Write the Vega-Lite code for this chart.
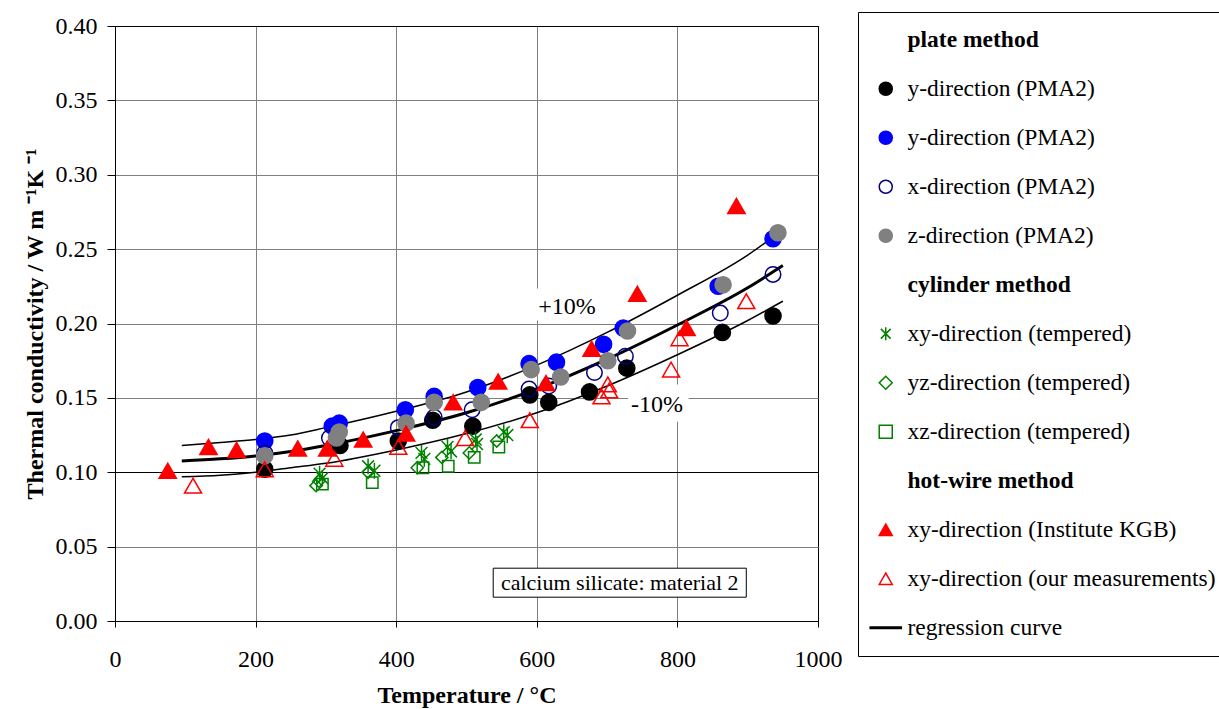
{
  "$schema": "https://vega.github.io/schema/vega-lite/v6.json",
  "width": 703,
  "height": 595,
  "autosize": {"type": "none"},
  "padding": {"left": 115, "top": 26, "right": 401, "bottom": 88},
  "background": "white",
  "config": {
    "view": {"stroke": "black", "strokeWidth": 1},
    "font": "Liberation Serif",
    "axis": {"labelFont": "Liberation Serif", "titleFont": "Liberation Serif"},
    "legend": {"labelFont": "Liberation Serif"}
  },
  "datasets": {
    "points": [
      {"series": "y-direction (PMA2)", "T": 213, "k": 0.102},
      {"series": "y-direction (PMA2)", "T": 320, "k": 0.118},
      {"series": "y-direction (PMA2)", "T": 403, "k": 0.121},
      {"series": "y-direction (PMA2)", "T": 452, "k": 0.135},
      {"series": "y-direction (PMA2)", "T": 509, "k": 0.131},
      {"series": "y-direction (PMA2)", "T": 590, "k": 0.152},
      {"series": "y-direction (PMA2)", "T": 617, "k": 0.147},
      {"series": "y-direction (PMA2)", "T": 675, "k": 0.154},
      {"series": "y-direction (PMA2)", "T": 728, "k": 0.170},
      {"series": "y-direction (PMA2)", "T": 864, "k": 0.194},
      {"series": "y-direction (PMA2)", "T": 936, "k": 0.205},
      {"series": "y-direction (PMA2) ", "T": 213, "k": 0.121},
      {"series": "y-direction (PMA2) ", "T": 309, "k": 0.131},
      {"series": "y-direction (PMA2) ", "T": 319, "k": 0.133},
      {"series": "y-direction (PMA2) ", "T": 413, "k": 0.142},
      {"series": "y-direction (PMA2) ", "T": 454, "k": 0.151},
      {"series": "y-direction (PMA2) ", "T": 516, "k": 0.157},
      {"series": "y-direction (PMA2) ", "T": 589, "k": 0.173},
      {"series": "y-direction (PMA2) ", "T": 628, "k": 0.174},
      {"series": "y-direction (PMA2) ", "T": 695, "k": 0.186},
      {"series": "y-direction (PMA2) ", "T": 723, "k": 0.197},
      {"series": "y-direction (PMA2) ", "T": 858, "k": 0.225},
      {"series": "y-direction (PMA2) ", "T": 936, "k": 0.257},
      {"series": "x-direction (PMA2)", "T": 213, "k": 0.113},
      {"series": "x-direction (PMA2)", "T": 305, "k": 0.123},
      {"series": "x-direction (PMA2)", "T": 403, "k": 0.130},
      {"series": "x-direction (PMA2)", "T": 454, "k": 0.137},
      {"series": "x-direction (PMA2)", "T": 508, "k": 0.142},
      {"series": "x-direction (PMA2)", "T": 589, "k": 0.156},
      {"series": "x-direction (PMA2)", "T": 617, "k": 0.158},
      {"series": "x-direction (PMA2)", "T": 682, "k": 0.167},
      {"series": "x-direction (PMA2)", "T": 726, "k": 0.178},
      {"series": "x-direction (PMA2)", "T": 861, "k": 0.207},
      {"series": "x-direction (PMA2)", "T": 936, "k": 0.233},
      {"series": "z-direction (PMA2)", "T": 213, "k": 0.111},
      {"series": "z-direction (PMA2)", "T": 315, "k": 0.123},
      {"series": "z-direction (PMA2)", "T": 319, "k": 0.127},
      {"series": "z-direction (PMA2)", "T": 414, "k": 0.133},
      {"series": "z-direction (PMA2)", "T": 454, "k": 0.147},
      {"series": "z-direction (PMA2)", "T": 521, "k": 0.147},
      {"series": "z-direction (PMA2)", "T": 592, "k": 0.169},
      {"series": "z-direction (PMA2)", "T": 634, "k": 0.164},
      {"series": "z-direction (PMA2)", "T": 701, "k": 0.175},
      {"series": "z-direction (PMA2)", "T": 729, "k": 0.195},
      {"series": "z-direction (PMA2)", "T": 865, "k": 0.226},
      {"series": "z-direction (PMA2)", "T": 943, "k": 0.261},
      {"series": "xy-direction (tempered)", "T": 291, "k": 0.099},
      {"series": "xy-direction (tempered)", "T": 295, "k": 0.096},
      {"series": "xy-direction (tempered)", "T": 360, "k": 0.104},
      {"series": "xy-direction (tempered)", "T": 369, "k": 0.101},
      {"series": "xy-direction (tempered)", "T": 436, "k": 0.113},
      {"series": "xy-direction (tempered)", "T": 440, "k": 0.109},
      {"series": "xy-direction (tempered)", "T": 473, "k": 0.117},
      {"series": "xy-direction (tempered)", "T": 478, "k": 0.114},
      {"series": "xy-direction (tempered)", "T": 513, "k": 0.122},
      {"series": "xy-direction (tempered)", "T": 515, "k": 0.119},
      {"series": "xy-direction (tempered)", "T": 553, "k": 0.127},
      {"series": "xy-direction (tempered)", "T": 558, "k": 0.125},
      {"series": "yz-direction (tempered)", "T": 286, "k": 0.091},
      {"series": "yz-direction (tempered)", "T": 290, "k": 0.094},
      {"series": "yz-direction (tempered)", "T": 360, "k": 0.100},
      {"series": "yz-direction (tempered)", "T": 430, "k": 0.103},
      {"series": "yz-direction (tempered)", "T": 465, "k": 0.110},
      {"series": "yz-direction (tempered)", "T": 504, "k": 0.113},
      {"series": "yz-direction (tempered)", "T": 543, "k": 0.121},
      {"series": "xz-direction (tempered)", "T": 295, "k": 0.092},
      {"series": "xz-direction (tempered)", "T": 366, "k": 0.093},
      {"series": "xz-direction (tempered)", "T": 438, "k": 0.103},
      {"series": "xz-direction (tempered)", "T": 474, "k": 0.104},
      {"series": "xz-direction (tempered)", "T": 511, "k": 0.110},
      {"series": "xz-direction (tempered)", "T": 546, "k": 0.117},
      {"series": "xy-direction (Institute KGB)", "T": 75, "k": 0.101},
      {"series": "xy-direction (Institute KGB)", "T": 133, "k": 0.117},
      {"series": "xy-direction (Institute KGB)", "T": 173, "k": 0.115},
      {"series": "xy-direction (Institute KGB)", "T": 260, "k": 0.116},
      {"series": "xy-direction (Institute KGB)", "T": 302, "k": 0.116},
      {"series": "xy-direction (Institute KGB)", "T": 353, "k": 0.122},
      {"series": "xy-direction (Institute KGB)", "T": 414, "k": 0.126},
      {"series": "xy-direction (Institute KGB)", "T": 481, "k": 0.147},
      {"series": "xy-direction (Institute KGB)", "T": 545, "k": 0.161},
      {"series": "xy-direction (Institute KGB)", "T": 613, "k": 0.160},
      {"series": "xy-direction (Institute KGB)", "T": 678, "k": 0.183},
      {"series": "xy-direction (Institute KGB)", "T": 743, "k": 0.220},
      {"series": "xy-direction (Institute KGB)", "T": 813, "k": 0.197},
      {"series": "xy-direction (Institute KGB)", "T": 884, "k": 0.279},
      {"series": "xy-direction (our measurements)", "T": 111, "k": 0.091},
      {"series": "xy-direction (our measurements)", "T": 213, "k": 0.102},
      {"series": "xy-direction (our measurements)", "T": 312, "k": 0.109},
      {"series": "xy-direction (our measurements)", "T": 403, "k": 0.117},
      {"series": "xy-direction (our measurements)", "T": 498, "k": 0.123},
      {"series": "xy-direction (our measurements)", "T": 590, "k": 0.135},
      {"series": "xy-direction (our measurements)", "T": 692, "k": 0.151},
      {"series": "xy-direction (our measurements)", "T": 701, "k": 0.159},
      {"series": "xy-direction (our measurements)", "T": 703, "k": 0.155},
      {"series": "xy-direction (our measurements)", "T": 791, "k": 0.169},
      {"series": "xy-direction (our measurements)", "T": 803, "k": 0.190},
      {"series": "xy-direction (our measurements)", "T": 898, "k": 0.215}
    ],
    "curves": [
      {"curve": "center", "T": 95, "k": 0.1075},
      {"curve": "center", "T": 150, "k": 0.109},
      {"curve": "center", "T": 200, "k": 0.111},
      {"curve": "center", "T": 250, "k": 0.114},
      {"curve": "center", "T": 300, "k": 0.118},
      {"curve": "center", "T": 400, "k": 0.128},
      {"curve": "center", "T": 500, "k": 0.140},
      {"curve": "center", "T": 600, "k": 0.156},
      {"curve": "center", "T": 700, "k": 0.176},
      {"curve": "center", "T": 800, "k": 0.199},
      {"curve": "center", "T": 900, "k": 0.224},
      {"curve": "center", "T": 950, "k": 0.239},
      {"curve": "upper", "T": 95, "k": 0.118},
      {"curve": "upper", "T": 150, "k": 0.120},
      {"curve": "upper", "T": 200, "k": 0.122},
      {"curve": "upper", "T": 250, "k": 0.125},
      {"curve": "upper", "T": 300, "k": 0.130},
      {"curve": "upper", "T": 400, "k": 0.141},
      {"curve": "upper", "T": 500, "k": 0.154},
      {"curve": "upper", "T": 600, "k": 0.172},
      {"curve": "upper", "T": 700, "k": 0.194},
      {"curve": "upper", "T": 800, "k": 0.219},
      {"curve": "upper", "T": 900, "k": 0.246},
      {"curve": "upper", "T": 950, "k": 0.263},
      {"curve": "lower", "T": 95, "k": 0.097},
      {"curve": "lower", "T": 150, "k": 0.098},
      {"curve": "lower", "T": 200, "k": 0.100},
      {"curve": "lower", "T": 250, "k": 0.103},
      {"curve": "lower", "T": 300, "k": 0.106},
      {"curve": "lower", "T": 400, "k": 0.115},
      {"curve": "lower", "T": 500, "k": 0.126},
      {"curve": "lower", "T": 600, "k": 0.140},
      {"curve": "lower", "T": 700, "k": 0.158},
      {"curve": "lower", "T": 800, "k": 0.179},
      {"curve": "lower", "T": 900, "k": 0.202},
      {"curve": "lower", "T": 950, "k": 0.215}
    ],
    "masks": [
      {"T": 599, "T2": 688, "k": 0.202, "k2": 0.2235},
      {"T": 730, "T2": 816, "k": 0.134, "k2": 0.159}
    ],
    "pct": [
      {"T": 643, "k": 0.211, "label": "+10%"},
      {"T": 771, "k": 0.145, "label": "-10%"}
    ],
    "box": [
      {"T": 538, "T2": 898, "k": 0.016, "k2": 0.0355, "label": "calcium silicate: material 2", "Tm": 718, "km": 0.0258}
    ]
  },
  "encoding": {
    "x": {
      "field": "T",
      "type": "quantitative",
      "scale": {"domain": [0, 1000], "nice": false, "zero": false},
      "axis": {
        "values": [0, 200, 400, 600, 800, 1000],
        "format": "d",
        "title": "Temperature / °C",
        "grid": true,
        "gridColor": {"condition": {"test": "datum.value >= 999 || datum.value <= 1", "value": "black"}, "value": "#808080"},
        "gridWidth": 1,
        "tickSize": 6,
        "tickColor": "black",
        "domainColor": "black",
        "labelPadding": 20,
        "labelFont": "Liberation Serif",
        "labelFontSize": 24,
        "labelColor": "black",
        "labelFlush": false,
        "labelOverlap": false,
        "titleFont": "Liberation Serif",
        "titleFontSize": 24,
        "titleFontWeight": "bold",
        "titleColor": "black",
        "titlePadding": 12
      }
    },
    "y": {
      "field": "k",
      "type": "quantitative",
      "scale": {"domain": [0, 0.4], "nice": false, "zero": false},
      "axis": {
        "values": [0, 0.05, 0.1, 0.15, 0.2, 0.25, 0.3, 0.35, 0.4],
        "format": ".2f",
        "title": "Thermal conductivity / W m ⁻¹K ⁻¹",
        "grid": true,
        "gridColor": {"condition": {"test": "abs(datum.value - 0.1) < 0.001 || datum.value > 0.399 || datum.value < 0.001", "value": "black"}, "value": "#808080"},
        "gridWidth": 1,
        "tickSize": 8,
        "tickColor": "black",
        "domainColor": "black",
        "labelPadding": 10,
        "labelFont": "Liberation Serif",
        "labelFontSize": 24,
        "labelColor": "black",
        "labelFlush": false,
        "labelOverlap": false,
        "titleFont": "Liberation Serif",
        "titleFontSize": 24,
        "titleFontWeight": "bold",
        "titleColor": "black",
        "titlePadding": 8
      }
    }
  },
  "layer": [
    {
      "data": {"name": "masks"},
      "mark": {"type": "rect", "fill": "white", "stroke": null},
      "encoding": {
        "x2": {"field": "T2"},
        "y2": {"field": "k2"}
      }
    },
    {
      "data": {"name": "curves"},
      "mark": {"type": "line", "color": "black", "interpolate": "monotone"},
      "encoding": {
        "detail": {"field": "curve", "type": "nominal"},
        "strokeWidth": {
          "field": "curve",
          "type": "nominal",
          "scale": {"type": "ordinal", "domain": ["center", "upper", "lower"], "range": [3, 1.5, 1.5]},
          "legend": null
        }
      }
    },
    {
      "data": {"name": "points"},
      "mark": {"type": "point", "strokeWidth": 1.5, "opacity": 1},
      "encoding": {
        "shape": {
          "field": "series",
          "type": "nominal",
          "scale": {
            "domain": ["plate method", "y-direction (PMA2)", "y-direction (PMA2) ", "x-direction (PMA2)", "z-direction (PMA2)", "cylinder method", "xy-direction (tempered)", "yz-direction (tempered)", "xz-direction (tempered)", "hot-wire method", "xy-direction (Institute KGB)", "xy-direction (our measurements)", "regression curve"],
            "range": ["M0,0", "circle", "circle", "circle", "circle", "M0,0", "M0,-1L0,1M-0.75,-0.75L0.75,0.75M-0.75,0.75L0.75,-0.75", "diamond", "square", "M0,0", "triangle-up", "triangle-up", "M-2.5,0L2.5,0"]
          },
          "legend": {
            "orient": "none",
            "legendX": 743,
            "legendY": -14,
            "title": null,
            "direction": "vertical",
            "columns": 1,
            "padding": 16,
            "strokeColor": "black",
            "fillColor": "white",
            "symbolSize": 170,
            "symbolStrokeWidth": {"expr": "datum.value === 'regression curve' ? 3 : 1.5"},
            "labelFont": "Liberation Serif",
            "labelFontSize": 23.5,
            "labelFontWeight": {"expr": "indexof(datum.label, 'method') >= 0 ? 'bold' : 'normal'"},
            "labelColor": "black",
            "labelOffset": 10,
            "labelLimit": 500,
            "rowPadding": 24,
            "encode": {
              "symbols": {"strokeWidth": {"condition": {"test": "datum.value === 'regression curve'", "value": 3}, "value": 1.5}},
              "labels": {"fontWeight": {"condition": {"test": "indexof(datum.label, 'method') >= 0", "value": "bold"}, "value": "normal"}}
            }
          }
        },
        "fill": {
          "field": "series",
          "type": "nominal",
          "scale": {
            "domain": ["plate method", "y-direction (PMA2)", "y-direction (PMA2) ", "x-direction (PMA2)", "z-direction (PMA2)", "cylinder method", "xy-direction (tempered)", "yz-direction (tempered)", "xz-direction (tempered)", "hot-wire method", "xy-direction (Institute KGB)", "xy-direction (our measurements)", "regression curve"],
            "range": ["transparent", "#000000", "#0000ff", "transparent", "#808080", "transparent", "transparent", "transparent", "transparent", "transparent", "#ff0000", "transparent", "transparent"]
          },
          "legend": {
            "orient": "none",
            "legendX": 743,
            "legendY": -14,
            "title": null,
            "direction": "vertical",
            "columns": 1,
            "padding": 16,
            "strokeColor": "black",
            "fillColor": "white",
            "symbolSize": 170,
            "symbolStrokeWidth": {"expr": "datum.value === 'regression curve' ? 3 : 1.5"},
            "labelFont": "Liberation Serif",
            "labelFontSize": 23.5,
            "labelFontWeight": {"expr": "indexof(datum.label, 'method') >= 0 ? 'bold' : 'normal'"},
            "labelColor": "black",
            "labelOffset": 10,
            "labelLimit": 500,
            "rowPadding": 24,
            "encode": {
              "symbols": {"strokeWidth": {"condition": {"test": "datum.value === 'regression curve'", "value": 3}, "value": 1.5}},
              "labels": {"fontWeight": {"condition": {"test": "indexof(datum.label, 'method') >= 0", "value": "bold"}, "value": "normal"}}
            }
          }
        },
        "stroke": {
          "field": "series",
          "type": "nominal",
          "scale": {
            "domain": ["plate method", "y-direction (PMA2)", "y-direction (PMA2) ", "x-direction (PMA2)", "z-direction (PMA2)", "cylinder method", "xy-direction (tempered)", "yz-direction (tempered)", "xz-direction (tempered)", "hot-wire method", "xy-direction (Institute KGB)", "xy-direction (our measurements)", "regression curve"],
            "range": ["transparent", "#000000", "#0000ff", "#000080", "#808080", "transparent", "#008000", "#008000", "#008000", "transparent", "#ff0000", "#ff0000", "#000000"]
          },
          "legend": {
            "orient": "none",
            "legendX": 743,
            "legendY": -14,
            "title": null,
            "direction": "vertical",
            "columns": 1,
            "padding": 16,
            "strokeColor": "black",
            "fillColor": "white",
            "symbolSize": 170,
            "symbolStrokeWidth": {"expr": "datum.value === 'regression curve' ? 3 : 1.5"},
            "labelFont": "Liberation Serif",
            "labelFontSize": 23.5,
            "labelFontWeight": {"expr": "indexof(datum.label, 'method') >= 0 ? 'bold' : 'normal'"},
            "labelColor": "black",
            "labelOffset": 10,
            "labelLimit": 500,
            "rowPadding": 24,
            "encode": {
              "symbols": {"strokeWidth": {"condition": {"test": "datum.value === 'regression curve'", "value": 3}, "value": 1.5}},
              "labels": {"fontWeight": {"condition": {"test": "indexof(datum.label, 'method') >= 0", "value": "bold"}, "value": "normal"}}
            }
          }
        },
        "size": {
          "field": "series",
          "type": "nominal",
          "scale": {
            "type": "ordinal",
            "domain": ["y-direction (PMA2)", "y-direction (PMA2) ", "x-direction (PMA2)", "z-direction (PMA2)", "xy-direction (tempered)", "yz-direction (tempered)", "xz-direction (tempered)", "xy-direction (Institute KGB)", "xy-direction (our measurements)"],
            "range": [260, 260, 240, 260, 250, 150, 130, 300, 290]
          },
          "legend": null
        }
      }
    },
    {
      "data": {"name": "pct"},
      "mark": {"type": "text", "font": "Liberation Serif", "fontSize": 24, "color": "black", "align": "center", "baseline": "middle"},
      "encoding": {"text": {"field": "label"}}
    },
    {
      "data": {"name": "box"},
      "mark": {"type": "rect", "fill": "white", "stroke": "black", "strokeWidth": 1},
      "encoding": {
        "x2": {"field": "T2"},
        "y2": {"field": "k2"}
      }
    },
    {
      "data": {"name": "box"},
      "mark": {"type": "text", "font": "Liberation Serif", "fontSize": 22, "color": "black", "align": "center", "baseline": "middle"},
      "encoding": {
        "x": {"field": "Tm", "type": "quantitative"},
        "y": {"field": "km", "type": "quantitative"},
        "text": {"field": "label"}
      }
    }
  ]
}
